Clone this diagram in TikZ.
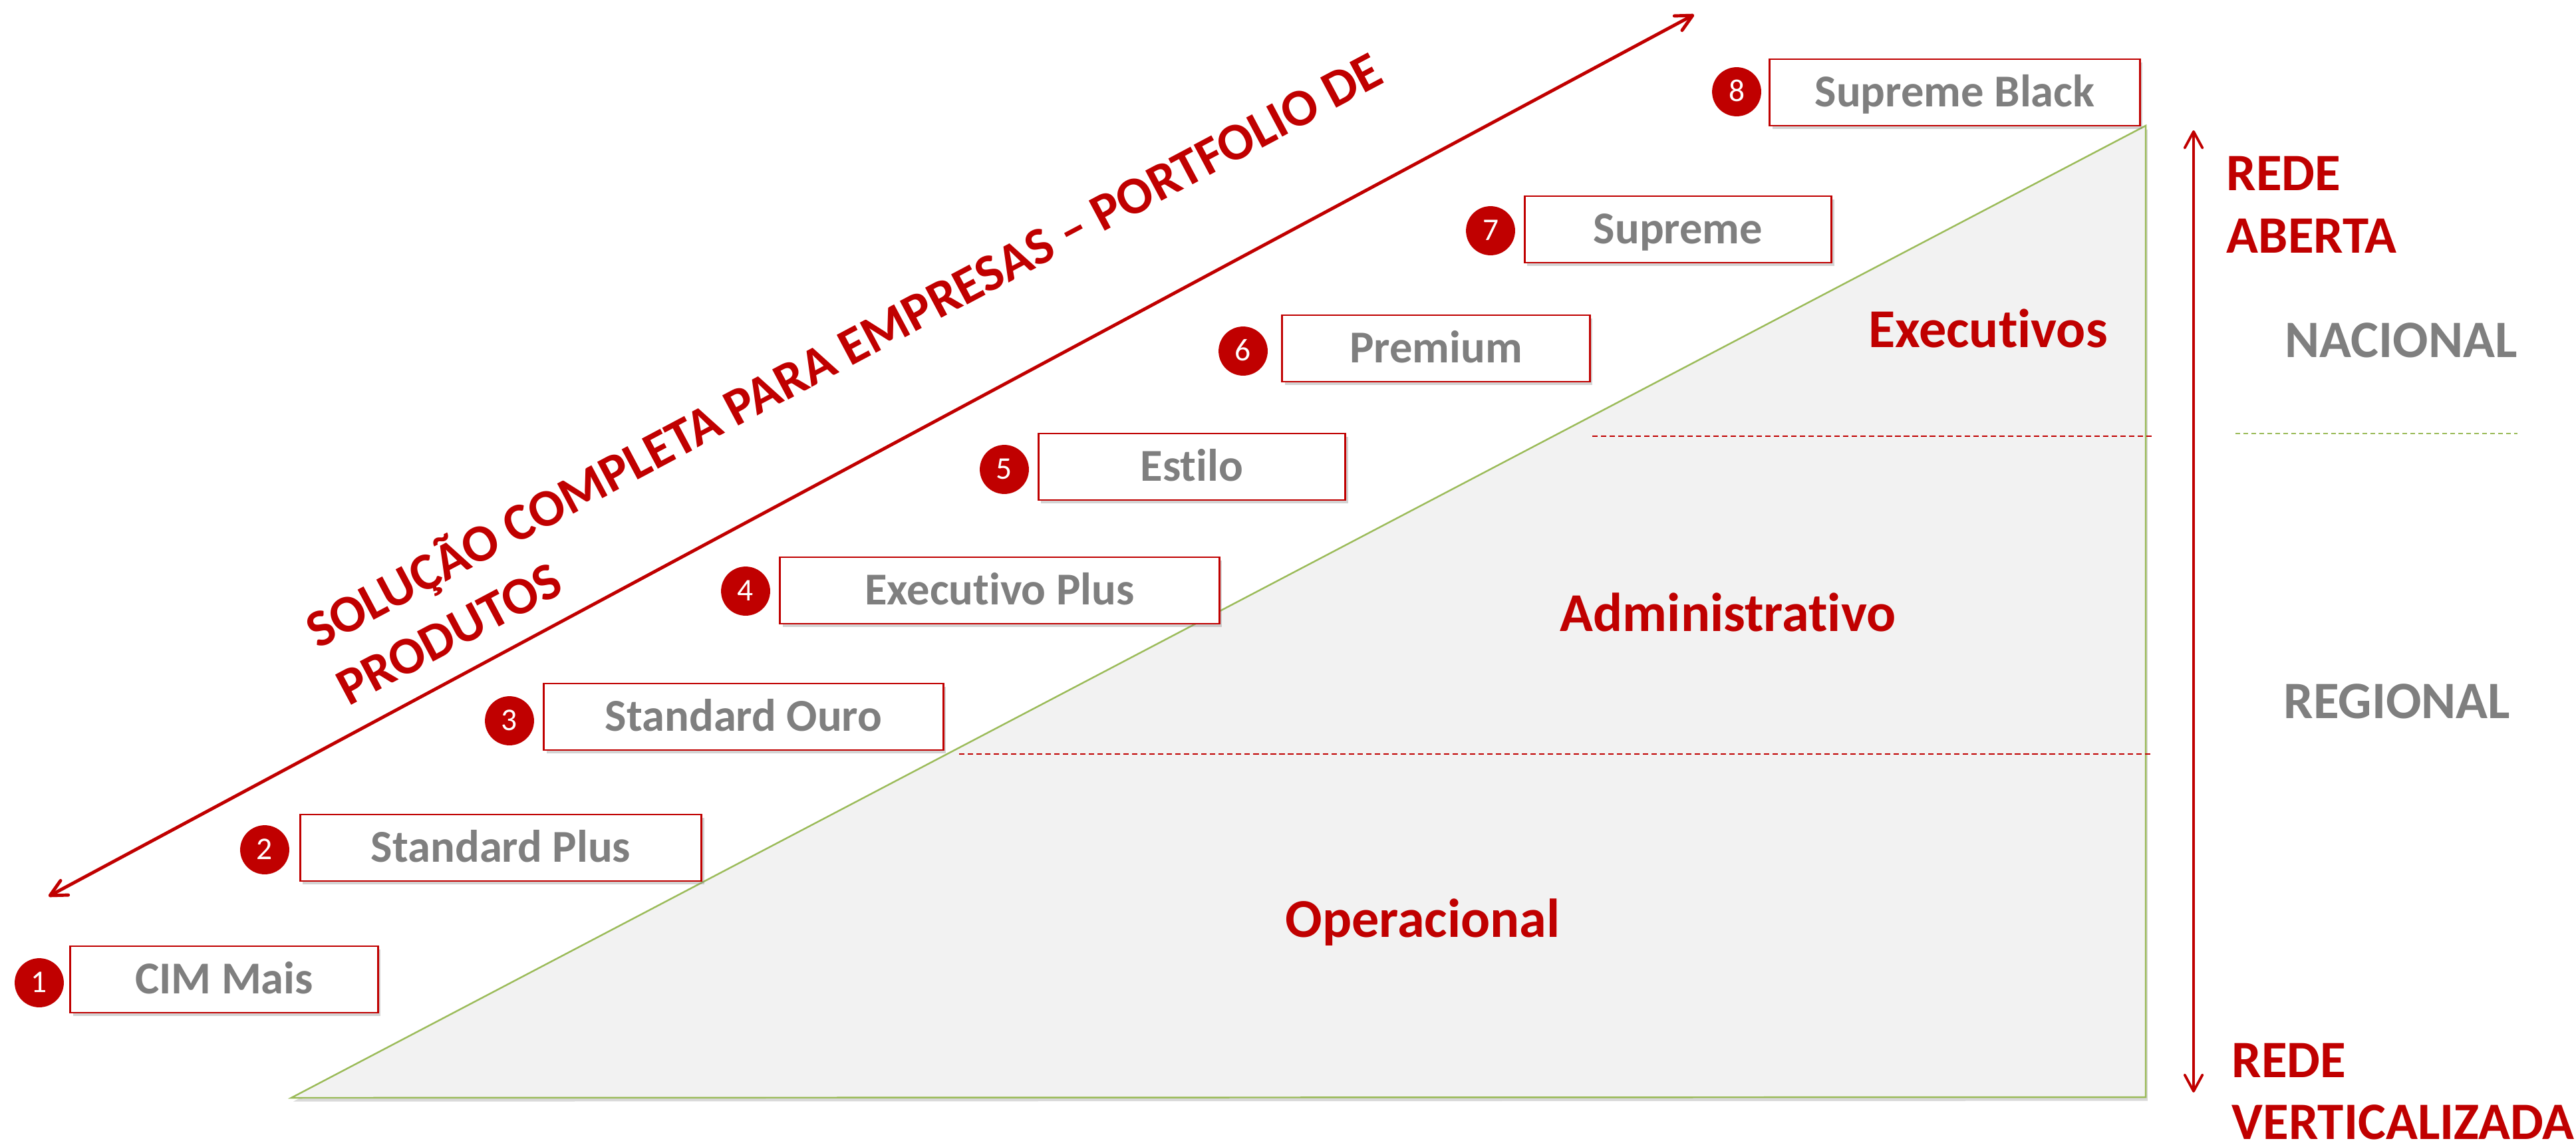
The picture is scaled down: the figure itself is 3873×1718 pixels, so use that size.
\documentclass[tikz,border=0pt]{standalone}
\usepackage{fontspec}
\setmainfont[Ligatures=NoCommon]{Carlito}
\usetikzlibrary{arrows.meta,shadows}
\definecolor{myred}{HTML}{C00000}
\definecolor{mygray}{HTML}{7F7F7F}
\definecolor{mygreen}{HTML}{9BBB59}
\definecolor{trifill}{HTML}{F2F2F2}
\begin{document}
\begin{tikzpicture}[x=0.01cm,y=-0.01cm,
  prodbox/.style={draw=myred, line width=0.8pt, fill=white, inner sep=0pt,
    minimum height=1cm, text=mygray,
    font=\bfseries\fontsize{19.5pt}{23pt}\selectfont, text height=12.3pt, text depth=0pt,
    drop shadow={shadow xshift=1.1pt, shadow yshift=-1.3pt, opacity=0.35}},
  numdot/.style={circle, fill=myred, text=white, minimum size=21pt, inner sep=0pt,
    font=\fontsize{13.5pt}{16pt}\selectfont, text height=8.5pt, text depth=0pt},
  tlabel/.style={text=myred, font=\bfseries\fontsize{23.4pt}{28pt}\selectfont, inner sep=0pt, anchor=base},
  rlabel/.style={text=myred, font=\bfseries\fontsize{22.5pt}{27pt}\selectfont, inner sep=0pt, anchor=base west},
  glabel/.style={text=mygray, font=\bfseries\fontsize{22.5pt}{27pt}\selectfont, inner sep=0pt, anchor=base},
  dlabel/.style={text=myred, font=\bfseries\fontsize{22.5pt}{26pt}\selectfont, inner sep=0pt, anchor=base west, rotate=28},
  tri/.style={fill=trifill, draw=mygreen, line width=0.7pt, line join=miter,
    drop shadow={shadow xshift=0.8pt, shadow yshift=-1.6pt, opacity=0.3}},
  reddash/.style={draw=myred, line width=0.5pt, dash pattern=on 2.3pt off 1.4pt},
  greendash/.style={draw=mygreen, line width=0.8pt, dash pattern=on 2pt off 1.4pt},
  bigarrow/.style={draw=myred, line width=1.4pt, line cap=round,
    {Straight Barb[length=7pt,width=7pt,round]}-{Straight Barb[length=7pt,width=7pt,round]}},
  vertarrow/.style={draw=myred, line width=1.1pt,
    {Straight Barb[length=7pt,width=7.6pt,round]}-{Straight Barb[length=7pt,width=7.6pt,round]}}
]
\useasboundingbox (0,0) rectangle (3873,1718);

% triangle
\path[tri] (438,1651) -- (3226,1650) -- (3226,189) -- cycle;
\draw[reddash] (2394,656) -- (3237,656);
\draw[reddash] (1442,1134) -- (3237,1134);

\node[tlabel] (exe) at (2989,522) {Executivos};
\node[tlabel] (adm) at (2598,949) {Administrativo};
\node[tlabel] (ope) at (2139,1409) {Operacional};

% diagonal arrow and text
\coordinate (dl) at (73,1348);
\coordinate (dr) at (2547,22);
\draw[bigarrow] (dl) -- (dr);
\node[dlabel] (sol1) at (478,977) {SOLUÇÃO COMPLETA PARA EMPRESAS – PORTFOLIO DE};
\node[dlabel] (sol2) at (524,1063) {PRODUTOS};

% product boxes
\node[prodbox, minimum width=4.62cm] (b1) at (337,1473) {CIM Mais};
\node[prodbox, minimum width=6.03cm] (b2) at (753,1275) {Standard Plus};
\node[prodbox, minimum width=6.00cm] (b3) at (1118,1078) {Standard Ouro};
\node[prodbox, minimum width=6.60cm] (b4) at (1503,888) {Executivo Plus};
\node[prodbox, minimum width=4.61cm] (b5) at (1792,702) {Estilo};
\node[prodbox, minimum width=4.62cm] (b6) at (2159,524) {Premium};
\node[prodbox, minimum width=4.61cm] (b7) at (2523,345) {Supreme};
\node[prodbox, minimum width=5.56cm] (b8) at (2939,139) {Supreme Black};

\node[numdot] (n1) at (59,1478) {1};
\node[numdot] (n2) at (398,1278) {2};
\node[numdot] (n3) at (766,1084) {3};
\node[numdot] (n4) at (1121,889) {4};
\node[numdot] (n5) at (1510,706) {5};
\node[numdot] (n6) at (1869,528) {6};
\node[numdot] (n7) at (2241,347) {7};
\node[numdot] (n8) at (2611,138) {8};

% right side
\coordinate (vt) at (3298,196);
\coordinate (vb) at (3298,1643);
\draw[vertarrow] (vb) -- (vt);
\node[rlabel] (r1) at (3347,286) {REDE};
\node[rlabel] (r2) at (3347,380) {ABERTA};
\node[rlabel] (r3) at (3355,1620) {REDE};
\node[rlabel] (r4) at (3355,1713) {VERTICALIZADA};
\node[glabel] (nac) at (3610,537) {NACIONAL};
\node[glabel] (reg) at (3604,1080) {REGIONAL};
\coordinate (gl) at (3361,652);
\coordinate (gr) at (3785,652);
\draw[greendash] (gl) -- (gr);
\end{tikzpicture}
\end{document}
